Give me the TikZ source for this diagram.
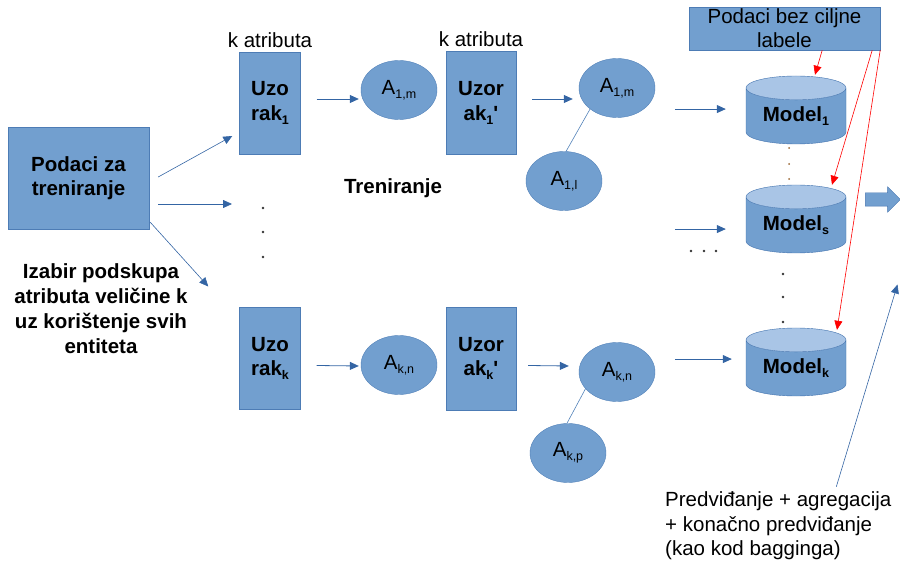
\documentclass[tikz,border=0pt]{standalone}
\usepackage{fontspec}
\setmainfont{Liberation Sans}
\newfontfamily\ravni{Liberation Sans}
\usetikzlibrary{arrows.meta, positioning, calc, shapes.geometric, shapes.arrows}
\definecolor{boja}{HTML}{729FCF}
\definecolor{rub}{HTML}{3465A4}
\definecolor{vrh}{HTML}{A9C5E6}
\newcommand{\velik}{\fontsize{20.5}{24.5}\selectfont}
\newcommand{\sub}[1]{\raisebox{-0.35ex}{\fontsize{12.5}{12.5}\selectfont #1}}
\tikzset{
    %Define standard arrow tip
    >={Triangle[length=9pt,width=8pt]},
    %Define style for boxes
    blok/.style={
           rectangle,
           draw=rub!60!boja,
           fill=boja,
           font=\velik\bfseries,
           align=center,
           inner sep=0pt},
    uzorak/.style={blok, minimum width=61pt, minimum height=102pt},
    uzorakp/.style={blok, minimum width=70pt, minimum height=103pt},
    % Define style for attributes
    atr/.style={
           ellipse,
           draw=rub!50!boja,
           fill=boja,
           minimum width=76pt,
           minimum height=59pt,
           inner sep=0pt},
    % Define style for models
    model/.style={
           cylinder,
           shape border rotate=90,
           aspect=0.36,
           draw=rub!80!boja,
           cylinder uses custom fill,
           cylinder body fill=boja,
           cylinder end fill=vrh,
           minimum width=100pt,
           minimum height=68pt,
           font=\velik\bfseries,
           inner sep=0pt,
           anchor=shape center},
    % Define arrow styles
    pil/.style={->, draw=rub, line width=0.8pt},
    crv/.style={->, draw=red, line width=0.6pt},
    tacka/.style={circle, fill=black!80, inner sep=0pt, minimum size=2.6pt}
}
\begin{document}
\begin{tikzpicture}[x=1pt, y=-1pt, font=\velik]
\useasboundingbox (0,0) rectangle (900,561);

% Input data
\node[blok, minimum width=141pt, minimum height=102pt] (podaci) at (78.5,178) {Podaci za\\treniranje};
\node[font=\fontsize{20.5}{25}\selectfont\bfseries, align=center] (izabir) at (101,309)
    {Izabir podskupa\\atributa veličine k\\uz korištenje svih\\entiteta};

% Samples
\node[uzorak] (u1) at (270,103) {Uzo\\rak\sub{1}};
\node[uzorak] (uk) at (270,358.5) {Uzo\\rak\sub{k}};
\node[uzorakp] (u1p) at (481,103) {Uzor\\ak\sub{1}{\ravni'}};
\node[uzorakp] (ukp) at (481,358.5) {Uzor\\ak\sub{k}{\ravni'}};
\node[inner sep=0pt, above=4pt of u1] (katr1) {k atributa};
\node[inner sep=0pt, above=4pt of u1p] (katr2) {k atributa};
\node[font=\velik\bfseries] (trening) at (393,188) {Treniranje};

% Attributes
\node[atr] (a1m) at (399,90) {A\sub{1,m}};
\node[atr] (akn) at (399,365) {A\sub{k,n}};
\node[atr] (a1m2) at (617,88) {A\sub{1,m}};
\node[atr] (a1l) at (564,181) {A\sub{1,l}};
\node[atr] (akn2) at (617,372) {A\sub{k,n}};
\node[atr] (akp) at (568,453) {A\sub{k,p}};

% Models
\node[model] (m1) at (796,110) {Model\sub{1}};
\node[model] (ms) at (796,219) {Model\sub{s}};
\node[model] (mk) at (796,362) {Model\sub{k}};
\node[blok, font=\fontsize{20.5}{24}\selectfont, minimum width=191pt, minimum height=43pt] (ciljne) at (784.5,28.5) {Podaci bez ciljne\\labele};
\node[single arrow, draw=rub!70!boja, fill=boja, inner xsep=0pt, inner ysep=6.5pt, minimum height=35pt, single arrow head extend=6pt] (izlaz) at (879.5,199.5) {};
\node[align=left, inner sep=0pt, anchor=west] (predv) at (665,526)
    {Predviđanje + agregacija\\+ konačno predviđanje\\(kao kod bagginga)};

% Dots
\node[tacka] (d1) at (263,208) {};
\node[tacka] (d2) at (263,232) {};
\node[tacka] (d3) at (263,257) {};
\node[tacka, fill=brown!80!black, minimum size=2pt] (e1) at (789,148) {};
\node[tacka, fill=brown!80!black, minimum size=2pt] (e2) at (789,164) {};
\node[tacka, fill=brown!80!black, minimum size=2pt] (e3) at (789,179) {};
\node[tacka] (f1) at (783,274) {};
\node[tacka] (f2) at (783,297) {};
\node[tacka] (f3) at (783,322) {};
\node[tacka] (h1) at (691,251) {};
\node[tacka] (h2) at (704,251) {};
\node[tacka] (h3) at (716,251) {};

% first set of arrows
\draw[pil, line width=0.6pt] ($(podaci.east)+(9,-1)$) -- ($(u1.west)+(-7,33)$);
\draw[pil] ($(podaci.east)+(9,26)$) -- ($(d1)+(-31,-4)$);
\draw[pil, line width=0.6pt] ($(podaci.south east)+(1,-7)$) -- ($(uk.west)+(-31,-72)$);
% second set of arrows
\draw[pil] ($(u1.east)+(16,-4)$) -- ($(a1m.west)+(-2,9)$);
\draw[pil] ($(uk.east)+(16,7)$) -- ($(akn.west)+(-2,1)$);
\draw[pil] ($(u1p.east)+(16,-4)$) -- ($(a1m2.west)+(-6,11)$);
\draw[pil] ($(ukp.east)+(12,7)$) -- ($(akn2.west)+(-10,-6)$);
\draw[draw=rub!50!boja, line width=0.6pt] (a1m2.218) -- (a1l.86);
\draw[draw=rub!50!boja, line width=0.6pt] (akn2.208) -- (akp.92);
% third set of arrows
\draw[pil] ($(m1.west)+(-71,-7)$) -- ($(m1.west)+(-20,-7)$);
\draw[pil] ($(ms.west)+(-71,4)$) -- ($(ms.west)+(-20,4)$);
\draw[pil] ($(mk.west)+(-71,-9)$) -- ($(mk.west)+(-14,-9)$);
% unlabelled data
\draw[crv] ($(ciljne.south east)+(-58,0)$) -- ($(m1.north)+(19,-1)$);
\draw[crv] ($(ciljne.south east)+(-8,0)$) -- ($(ms.north)+(36,0)$);
\draw[crv] (ciljne.south east) -- ($(mk.north)+(41,2)$);
% prediction
\draw[pil, line width=0.6pt] ($(predv.north)+(58,-5)$) -- ($(izlaz)+(18,85)$);
\end{tikzpicture}
\end{document}
